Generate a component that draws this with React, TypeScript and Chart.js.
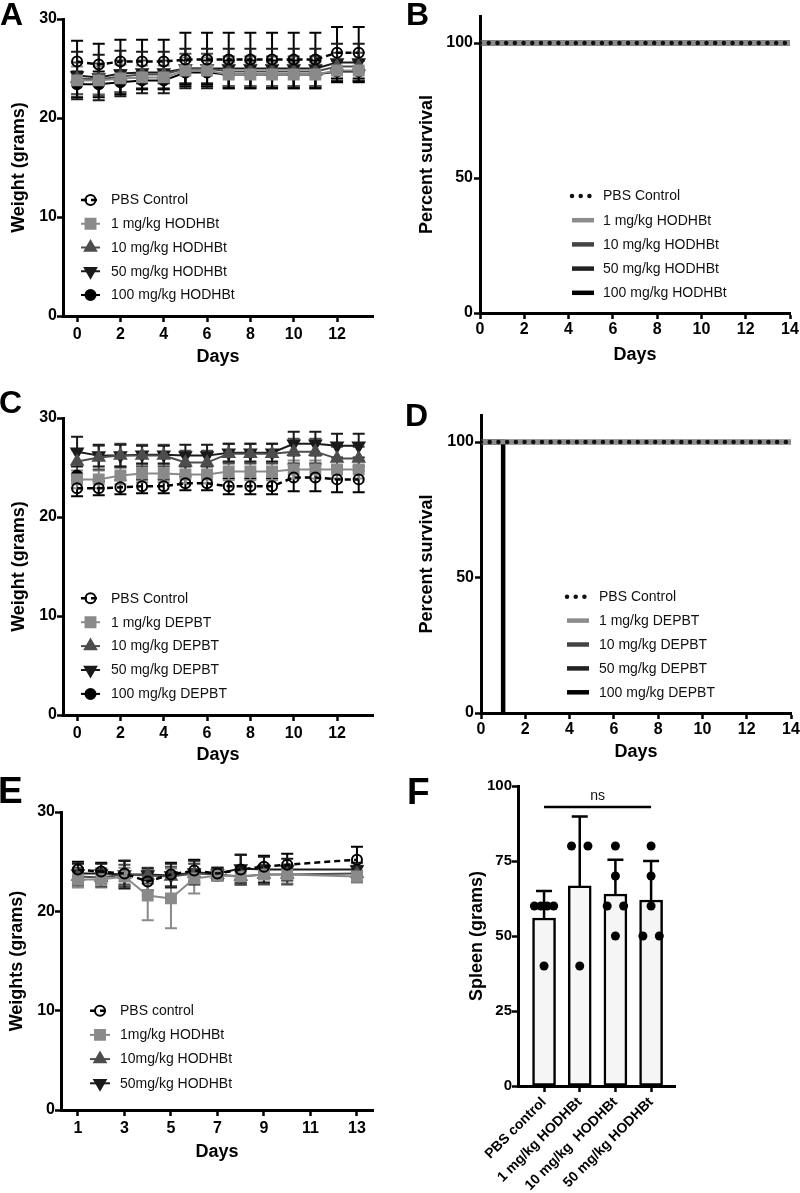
import React, { useEffect, useRef } from "react";
import { Chart, registerables } from "chart.js";
import { drawPoint } from "chart.js/helpers";

Chart.register(...registerables);

const FONT = "'Liberation Sans', Arial, Helvetica, sans-serif";

// ---------------- Panel A : body weight, HODHBt ----------------
const daysA = [0, 1, 2, 3, 4, 5, 6, 7, 8, 9, 10, 11, 12, 13];
const xTicksA = [0, 2, 4, 6, 8, 10, 12];
const yTicksWeight = [0, 10, 20, 30];
const labelsA = ["PBS Control", "1 mg/kg HODHBt", "10 mg/kg HODHBt", "50 mg/kg HODHBt", "100 mg/kg HODHBt"];
const pbsA = [25.7, 25.4, 25.7, 25.7, 25.7, 25.9, 25.9, 25.9, 25.9, 25.9, 25.9, 25.9, 26.6, 26.6];
const pbsA_sd = [2.1, 2.1, 2.2, 2.2, 2.2, 2.7, 2.7, 2.7, 2.7, 2.7, 2.7, 2.7, 2.6, 2.6];
const mg1A = [23.8, 23.8, 24.0, 24.1, 24.1, 24.8, 24.8, 24.4, 24.4, 24.4, 24.4, 24.4, 24.8, 24.8];
const mg1A_sd = [1.4, 1.4, 1.4, 1.2, 1.2, 1.3, 1.3, 1.2, 1.2, 1.2, 1.2, 1.2, 1.0, 1.0];
const mg10A = [24.0, 23.9, 24.2, 24.4, 24.4, 25.0, 25.0, 24.7, 24.7, 24.7, 24.7, 24.7, 25.2, 25.2];
const mg10A_sd = [1.6, 1.6, 1.6, 1.4, 1.4, 1.5, 1.5, 1.5, 1.5, 1.5, 1.5, 1.5, 1.4, 1.4];
const mg50A = [24.3, 24.1, 24.5, 24.6, 24.6, 25.0, 25.0, 25.0, 25.0, 25.0, 25.0, 25.0, 25.6, 25.6];
const mg50A_sd = [2.4, 2.3, 2.3, 2.1, 2.1, 2.0, 2.0, 2.0, 2.0, 2.0, 2.0, 2.0, 1.9, 1.9];
const mg100A = [23.4, 23.4, 23.6, 23.8, 23.8, 24.6, 24.6, 24.4, 24.4, 24.4, 24.4, 24.4, 24.7, 24.7];
const mg100A_sd = [1.3, 1.3, 1.2, 0.9, 0.9, 1.2, 1.2, 1.4, 1.4, 1.4, 1.4, 1.4, 1.1, 1.1];

// ---------------- Panel B : survival, HODHBt ----------------
const xTicksSurv = [0, 2, 4, 6, 8, 10, 12, 14];
const yTicksSurv = [0, 50, 100];
const survDaysB = [0, 14];
const survB_pbs = [100, 100];
const survB_1 = [100, 100];
const survB_10 = [100, 100];
const survB_50 = [100, 100];
const survB_100 = [100, 100];

// ---------------- Panel C : body weight, DEPBT ----------------
const daysC = [0, 1, 2, 3, 4, 5, 6, 7, 8, 9, 10, 11, 12, 13];
const labelsC = ["PBS Control", "1 mg/kg DEPBT", "10 mg/kg DEPBT", "50 mg/kg DEPBT", "100 mg/kg DEPBT"];
const pbsC = [22.9, 22.9, 23.0, 23.1, 23.1, 23.4, 23.4, 23.1, 23.1, 23.1, 24.0, 24.0, 23.8, 23.8];
const pbsC_sd = [0.8, 0.7, 0.7, 0.7, 0.7, 0.7, 0.7, 0.8, 0.8, 0.8, 1.4, 1.4, 1.3, 1.3];
const mg1C = [23.8, 23.8, 24.2, 24.4, 24.4, 24.3, 24.3, 24.6, 24.6, 24.6, 24.8, 24.8, 24.8, 24.8];
const mg1C_sd = [0.9, 0.9, 0.9, 0.9, 0.9, 0.9, 0.9, 0.9, 0.9, 0.9, 0.9, 0.9, 0.9, 0.9];
const mg10C = [25.6, 26.0, 26.2, 26.2, 26.2, 25.5, 25.5, 26.4, 26.4, 26.4, 26.6, 26.6, 25.9, 25.9];
const mg10C_sd = [1.2, 1.2, 1.2, 1.1, 1.1, 1.2, 1.2, 1.0, 1.0, 1.0, 1.3, 1.3, 1.2, 1.2];
const mg50C = [26.6, 26.2, 26.2, 26.3, 26.3, 26.2, 26.2, 26.5, 26.5, 26.5, 27.4, 27.4, 27.2, 27.2];
const mg50C_sd = [1.5, 1.1, 1.1, 0.9, 0.9, 1.1, 1.1, 0.9, 0.9, 0.9, 1.2, 1.2, 1.2, 1.2];
const mg100C = [24.2, null, null, null, null, null, null, null, null, null, null, null, null, null];
const mg100C_sd = [0, null, null, null, null, null, null, null, null, null, null, null, null, null];

// ---------------- Panel D : survival, DEPBT ----------------
const survDaysD = [0, 14];
const survD_pbs = [100, 100];
const survD_1 = [100, 100];
const survD_10 = [100, 100];
const survD_50 = [100, 100];
const survDaysD_100 = [0, 1, 1];
const survD_100 = [100, 100, 0];

// ---------------- Panel E : body weight, HODHBt (2nd study) ----------------
const daysE = [1, 2, 3, 4, 5, 6, 7, 8, 9, 10, 13];
const xTicksE = [1, 3, 5, 7, 9, 11, 13];
const labelsE = ["PBS control", "1mg/kg HODHBt", "10mg/kg HODHBt", "50mg/kg HODHBt"];
const pbsE = [24.2, 24.0, 23.8, 23.0, 23.7, 24.1, 23.8, 24.2, 24.5, 24.7, 25.2];
const pbsE_sd = [0.8, 0.9, 1.3, 0.9, 1.2, 1.1, 0.6, 1.5, 1.1, 1.1, 1.3];
const mg1E = [23.2, 23.2, 23.5, 21.6, 21.3, 23.3, 23.6, 23.5, 23.7, 23.7, 23.5];
const mg1E_sd = [0.8, 0.8, 0.9, 2.5, 3.0, 1.5, 0.5, 0.6, 0.9, 0.9, 0.6];
const mg10E = [23.5, 23.4, 23.7, 23.6, 23.5, 23.8, 23.7, 23.5, 23.7, 23.7, 23.8];
const mg10E_sd = [0.9, 0.9, 1.0, 0.8, 1.0, 1.0, 0.6, 0.8, 1.0, 1.0, 0.8];
const mg50E = [23.8, 23.8, 23.7, 23.7, 23.6, 23.9, 23.8, 24.3, 24.2, 24.2, 24.2];
const mg50E_sd = [1.0, 1.0, 1.4, 0.6, 1.2, 1.2, 0.6, 1.4, 1.3, 1.1, 0.7];

// ---------------- Panel F : spleen ----------------
const categoriesF = ["PBS control", "1 mg/kg HODHBt", "10 mg/kg  HODHBt", "50 mg/kg HODHBt"];
const meansF = [56, 66.7, 64, 62];
const sdF = [9, 23.1, 11.4, 13.0];
const pointsF = [
  [60, 60, 60, 60, 40],
  [80, 80, 40],
  [80, 70, 60, 60, 50],
  [80, 70, 60, 50, 50],
];
const yTicksF = [0, 25, 50, 75, 100];
const nsBracketX = [0, 3];
const nsBracketY = [93, 93];
const nsText = "ns";

// ---------------- styles ----------------
const STY = [
  { color: "#000000", fill: "rgba(0,0,0,0)", pointStyle: "circle", radius: 5, rotation: 0, dash: [6, 4], lineWidth: 2.5 },
  { color: "#8a8a8a", fill: "#8a8a8a", pointStyle: "rect", radius: 7, rotation: 0, dash: [], lineWidth: 2 },
  { color: "#4d4d4d", fill: "#4d4d4d", pointStyle: "triangle", radius: 6.5, rotation: 0, dash: [], lineWidth: 2 },
  { color: "#1a1a1a", fill: "#1a1a1a", pointStyle: "triangle", radius: 6.5, rotation: 180, dash: [], lineWidth: 2 },
  { color: "#000000", fill: "#000000", pointStyle: "circle", radius: 5, rotation: 0, dash: [], lineWidth: 2 },
];
const SURV_STY = [
  { color: "#111111", lineWidth: 4.5, dash: [0.01, 8.7], cap: "round" },
  { color: "#8c8c8c", lineWidth: 4.5, dash: [], cap: "butt" },
  { color: "#444444", lineWidth: 4.5, dash: [], cap: "butt" },
  { color: "#222222", lineWidth: 4.5, dash: [], cap: "butt" },
  { color: "#000000", lineWidth: 4.5, dash: [], cap: "butt" },
];

// ---------------- plugins ----------------
function drawErrorBars(chart: any, phase: string) {
  const ctx = chart.ctx;
  const xs = chart.scales.x;
  const ys = chart.scales.y;
  chart.data.datasets.forEach((ds: any) => {
    if (!ds.errorBars) return;
    if ((ds.errorPhase || "before") !== phase) return;
    ctx.save();
    ctx.strokeStyle = ds.errorColor || "#000";
    ctx.lineWidth = ds.errorWidth || 2;
    ctx.setLineDash([]);
    const cw = ds.capWidth || 6;
    ds.data.forEach((p: any, i: number) => {
      const sd = ds.errorBars[i];
      if (p.y == null || sd == null || sd === 0) return;
      const px = xs.getPixelForValue(p.x);
      const py = ys.getPixelForValue(p.y);
      const top = ys.getPixelForValue(p.y + sd);
      const bot = ds.errorDir === "up" ? py : ys.getPixelForValue(p.y - sd);
      ctx.beginPath();
      ctx.moveTo(px, top);
      ctx.lineTo(px, bot);
      ctx.moveTo(px - cw, top);
      ctx.lineTo(px + cw, top);
      if (ds.errorDir !== "up") {
        ctx.moveTo(px - cw, bot);
        ctx.lineTo(px + cw, bot);
      }
      ctx.stroke();
    });
    ctx.restore();
  });
}

const errorBarPlugin = {
  id: "errorBarsCustom",
  beforeDatasetsDraw(chart: any) {
    drawErrorBars(chart, "before");
  },
  afterDatasetsDraw(chart: any) {
    drawErrorBars(chart, "after");
  },
};

function legendPlugin(items: any[], pos: { x1: number; x2: number; tx: number; y0: number; dy: number }) {
  return {
    id: "customLegend",
    afterDraw(chart: any) {
      const ctx = chart.ctx;
      items.forEach((it, i) => {
        const y = pos.y0 + i * pos.dy;
        ctx.save();
        ctx.strokeStyle = it.color;
        ctx.lineWidth = it.lineWidth;
        ctx.lineCap = it.cap || "butt";
        ctx.setLineDash(it.dash || []);
        ctx.beginPath();
        ctx.moveTo(pos.x1, y);
        ctx.lineTo(pos.x2, y);
        ctx.stroke();
        ctx.setLineDash([]);
        ctx.lineCap = "butt";
        if (it.pointStyle) {
          ctx.fillStyle = it.fill;
          ctx.strokeStyle = it.color;
          ctx.lineWidth = 2;
          drawPoint(ctx, { pointStyle: it.pointStyle, rotation: it.rotation || 0, radius: it.radius, borderWidth: 2 }, (pos.x1 + pos.x2) / 2, y);
        }
        ctx.fillStyle = "#111";
        ctx.font = `14px ${FONT}`;
        ctx.textBaseline = "middle";
        ctx.textAlign = "left";
        ctx.fillText(it.label, pos.tx, y + 0.5);
        ctx.restore();
      });
    },
  };
}

function nsPlugin() {
  return {
    id: "nsText",
    afterDraw(chart: any) {
      const ctx = chart.ctx;
      const xs = chart.scales.x;
      const ys = chart.scales.y;
      const cx = (xs.getPixelForValue(nsBracketX[0]) + xs.getPixelForValue(nsBracketX[1])) / 2;
      const cy = ys.getPixelForValue(nsBracketY[0]) - 11;
      ctx.save();
      ctx.fillStyle = "#111";
      ctx.font = `14px ${FONT}`;
      ctx.textAlign = "center";
      ctx.textBaseline = "middle";
      ctx.fillText(nsText, cx, cy);
      ctx.restore();
    },
  };
}

// ---------------- helpers ----------------
function linAxis(o: any) {
  const ticks: any = {
    color: "#000",
    padding: o.tickPad,
    font: { family: FONT, size: o.tickSize, weight: "bold" },
    autoSkip: false,
    maxRotation: o.rot || 0,
    minRotation: o.rot || 0,
  };
  if (o.cb) ticks.callback = o.cb;
  return {
    type: "linear",
    min: o.min,
    max: o.max,
    offset: false,
    afterBuildTicks: (s: any) => {
      s.ticks = o.ticks.map((v: number) => ({ value: v }));
    },
    afterFit: (s: any) => {
      if (o.horizontal) s.height = o.size;
      else s.width = o.size;
      s.paddingLeft = 0;
      s.paddingRight = 0;
      s.paddingTop = 0;
      s.paddingBottom = 0;
    },
    grid: { display: true, offset: false, drawOnChartArea: false, drawTicks: true, tickLength: 6, tickWidth: 2.5, tickColor: "#000", color: "#000" },
    border: { display: true, color: "#000", width: 3 },
    ticks,
    title: {
      display: true,
      text: o.title,
      color: "#000",
      font: { family: FONT, size: 18, weight: "bold" },
      padding: o.horizontal ? { top: 0, bottom: o.titlePad } : { top: o.titlePad, bottom: 0 },
    },
  };
}

function weightDataset(label: string, xs: number[], ys: any[], sd: any[], s: any) {
  return {
    label,
    data: xs.map((x, i) => ({ x, y: ys[i] })),
    borderColor: s.color,
    backgroundColor: s.fill,
    borderWidth: s.lineWidth,
    borderDash: s.dash,
    pointStyle: s.pointStyle,
    pointRotation: s.rotation,
    pointRadius: s.radius,
    pointBackgroundColor: s.fill,
    pointBorderColor: s.color,
    pointBorderWidth: 2,
    fill: false,
    tension: 0,
    errorBars: sd,
    errorColor: s.color,
    errorWidth: 2,
    capWidth: 6,
  };
}

function survDataset(label: string, xs: number[], ys: number[], s: any) {
  return {
    label,
    data: xs.map((x, i) => ({ x, y: ys[i] })),
    borderColor: s.color,
    borderWidth: s.lineWidth,
    borderDash: s.dash,
    borderCapStyle: s.cap,
    pointRadius: 0,
    fill: false,
    tension: 0,
  };
}

function baseOptions(padding: any, scales: any) {
  return {
    responsive: false,
    maintainAspectRatio: false,
    animation: false,
    devicePixelRatio: 1,
    layout: { padding },
    plugins: { legend: { display: false }, tooltip: { enabled: false } },
    events: [],
    scales,
  };
}

// ---------------- configs ----------------
function configA() {
  const series = [
    [pbsA, pbsA_sd],
    [mg1A, mg1A_sd],
    [mg10A, mg10A_sd],
    [mg50A, mg50A_sd],
    [mg100A, mg100A_sd],
  ];
  return {
    type: "line",
    data: { datasets: series.map((s, i) => weightDataset(labelsA[i], daysA, s[0], s[1], STY[i])) },
    options: baseOptions({ left: 0, top: 19, right: 27, bottom: 0 }, {
      x: linAxis({ horizontal: true, min: -0.65, max: 13.66, ticks: xTicksA, size: 59, tickPad: 3, tickSize: 16, title: "Days", titlePad: 7 }),
      y: linAxis({ min: 0, max: 30, ticks: yTicksWeight, size: 63, tickPad: 0, tickSize: 16, title: "Weight (grams)", titlePad: 8 }),
    }),
    plugins: [errorBarPlugin, legendPlugin(labelsA.map((l, i) => ({ label: l, ...STY[i] })), { x1: 81, x2: 100, tx: 111, y0: 200, dy: 23.75 })],
  };
}

function configB() {
  const series = [survB_pbs, survB_1, survB_10, survB_50, survB_100];
  return {
    type: "line",
    data: { datasets: series.map((s, i) => survDataset(labelsA[i], survDaysB, s, SURV_STY[i])) },
    options: baseOptions({ left: 0, top: 16, right: 10, bottom: 0 }, {
      x: linAxis({ horizontal: true, min: 0, max: 14, ticks: xTicksSurv, size: 62, tickPad: 1, tickSize: 16, title: "Days", titlePad: 9 }),
      y: linAxis({ min: 0, max: 110, ticks: yTicksSurv, size: 80, tickPad: 1, tickSize: 16, title: "Percent survival", titlePad: 16.5 }),
    }),
    plugins: [legendPlugin(labelsA.map((l, i) => ({ label: l, ...SURV_STY[i] })), { x1: 172, x2: 194, tx: 203, y0: 196, dy: 24.2 })],
  };
}

function configC() {
  const series = [
    [pbsC, pbsC_sd],
    [mg1C, mg1C_sd],
    [mg10C, mg10C_sd],
    [mg50C, mg50C_sd],
    [mg100C, mg100C_sd],
  ];
  return {
    type: "line",
    data: { datasets: series.map((s, i) => weightDataset(labelsC[i], daysC, s[0] as any, s[1] as any, STY[i])) },
    options: baseOptions({ left: 0, top: 33, right: 27, bottom: 0 }, {
      x: linAxis({ horizontal: true, min: -0.65, max: 13.66, ticks: xTicksA, size: 55, tickPad: 3, tickSize: 16, title: "Days", titlePad: 4 }),
      y: linAxis({ min: 0, max: 30, ticks: yTicksWeight, size: 63, tickPad: 0, tickSize: 16, title: "Weight (grams)", titlePad: 8 }),
    }),
    plugins: [errorBarPlugin, legendPlugin(labelsC.map((l, i) => ({ label: l, ...STY[i] })), { x1: 81, x2: 100, tx: 111, y0: 213.3, dy: 23.9 })],
  };
}

function configD() {
  const datasets = [
    survDataset(labelsC[0], survDaysD, survD_pbs, SURV_STY[0]),
    survDataset(labelsC[1], survDaysD, survD_1, SURV_STY[1]),
    survDataset(labelsC[2], survDaysD, survD_10, SURV_STY[2]),
    survDataset(labelsC[3], survDaysD, survD_50, SURV_STY[3]),
    survDataset(labelsC[4], survDaysD_100, survD_100, SURV_STY[4]),
  ];
  return {
    type: "line",
    data: { datasets },
    options: baseOptions({ left: 0, top: 30, right: 9, bottom: 0 }, {
      x: linAxis({ horizontal: true, min: 0, max: 14, ticks: xTicksSurv, size: 57, tickPad: 1, tickSize: 16, title: "Days", titlePad: 7 }),
      y: linAxis({ min: 0, max: 110, ticks: yTicksSurv, size: 81, tickPad: 1, tickSize: 16, title: "Percent survival", titlePad: 16.5 }),
    }),
    plugins: [legendPlugin(labelsC.map((l, i) => ({ label: l, ...SURV_STY[i] })), { x1: 167, x2: 189, tx: 199, y0: 211.7, dy: 23.9 })],
  };
}

function configE() {
  const series = [
    [pbsE, pbsE_sd],
    [mg1E, mg1E_sd],
    [mg10E, mg10E_sd],
    [mg50E, mg50E_sd],
  ];
  return {
    type: "line",
    data: { datasets: series.map((s, i) => weightDataset(labelsE[i], daysE, s[0], s[1], STY[i])) },
    options: baseOptions({ left: 0, top: 42, right: 27, bottom: 0 }, {
      x: linAxis({ horizontal: true, min: 0.27, max: 13.69, ticks: xTicksE, size: 83, tickPad: 3, tickSize: 16, title: "Days", titlePad: 30 }),
      y: linAxis({ min: 0, max: 30, ticks: yTicksWeight, size: 61, tickPad: 0, tickSize: 16, title: "Weights (grams)", titlePad: 6.5 }),
    }),
    plugins: [errorBarPlugin, legendPlugin(labelsE.map((l, i) => ({ label: l, ...STY[i] })), { x1: 90, x2: 110, tx: 120, y0: 240.7, dy: 24.2 })],
  };
}

function jitteredPoints() {
  const out: any[] = [];
  pointsF.forEach((group, gi) => {
    const counts: Record<number, number> = {};
    group.forEach((v) => (counts[v] = (counts[v] || 0) + 1));
    const seen: Record<number, number> = {};
    group.forEach((v) => {
      const n = counts[v];
      const k = seen[v] || 0;
      seen[v] = k + 1;
      const w = n === 2 ? 0.23 : 0.27;
      const off = n === 1 ? 0 : -w + (2 * w * k) / (n - 1);
      out.push({ x: gi + off, y: v });
    });
  });
  return out;
}

function configF() {
  return {
    type: "bar",
    data: {
      datasets: [
        { type: "scatter", data: jitteredPoints(), pointRadius: 4.5, pointBackgroundColor: "#000", pointBorderColor: "#000", pointBorderWidth: 0 },
        { type: "line", data: nsBracketX.map((x, i) => ({ x, y: nsBracketY[i] })), borderColor: "#000", borderWidth: 2.5, pointRadius: 0, fill: false },
        {
          type: "bar",
          data: meansF.map((m, i) => ({ x: i, y: m })),
          backgroundColor: "#f5f5f5",
          borderColor: "#000",
          borderWidth: 2.5,
          borderSkipped: false,
          barThickness: 23,
          errorBars: sdF,
          errorDir: "up",
          errorColor: "#000",
          errorWidth: 2.5,
          capWidth: 8,
        },
      ],
    },
    options: baseOptions({ left: 0, top: 16, right: 125, bottom: 0 }, {
      x: {
        ...linAxis({ horizontal: true, min: -0.73, max: 3.67, ticks: [0, 1, 2, 3], size: 107, tickPad: 2, tickSize: 14, rot: 45, title: "", titlePad: 0, cb: (_v: any, i: number) => categoriesF[i] }),
        title: { display: false },
      },
      y: linAxis({ min: 0, max: 100, ticks: yTicksF, size: 118, tickPad: 0, tickSize: 15, title: "Spleen (grams)", titlePad: 66 }),
    }),
    plugins: [errorBarPlugin, nsPlugin()],
  };
}

// ---------------- components ----------------
function ChartBox({ left, top, width, height, make }: any) {
  const ref = useRef<HTMLCanvasElement | null>(null);
  useEffect(() => {
    const chart = new Chart(ref.current as HTMLCanvasElement, make() as any);
    return () => chart.destroy();
  }, []);
  return (
    <canvas
      ref={ref}
      width={width}
      height={height}
      style={{ position: "absolute", left, top, width, height, display: "block" }}
    />
  );
}

function Letter({ text, left, top, size }: any) {
  return (
    <div
      style={{
        position: "absolute",
        left,
        top,
        fontFamily: FONT,
        fontWeight: "bold",
        fontSize: size,
        lineHeight: 1,
        color: "#000",
      }}
    >
      {text}
    </div>
  );
}

export default function App() {
  return (
    <div style={{ position: "absolute", left: 0, top: 0, width: 800, height: 1193, background: "#fff", overflow: "hidden" }}>
      <ChartBox left={0} top={0} width={400} height={375} make={configA} />
      <ChartBox left={400} top={0} width={400} height={375} make={configB} />
      <ChartBox left={0} top={385} width={400} height={385} make={configC} />
      <ChartBox left={400} top={385} width={400} height={385} make={configD} />
      <ChartBox left={0} top={770} width={400} height={423} make={configE} />
      <ChartBox left={400} top={770} width={400} height={423} make={configF} />
      <Letter text="A" left={0} top={-2} size={32} />
      <Letter text="B" left={406} top={-2} size={32} />
      <Letter text="C" left={-1} top={386} size={32} />
      <Letter text="D" left={405} top={399} size={32} />
      <Letter text="E" left={-2} top={772} size={37} />
      <Letter text="F" left={407} top={773} size={37} />
    </div>
  );
}
